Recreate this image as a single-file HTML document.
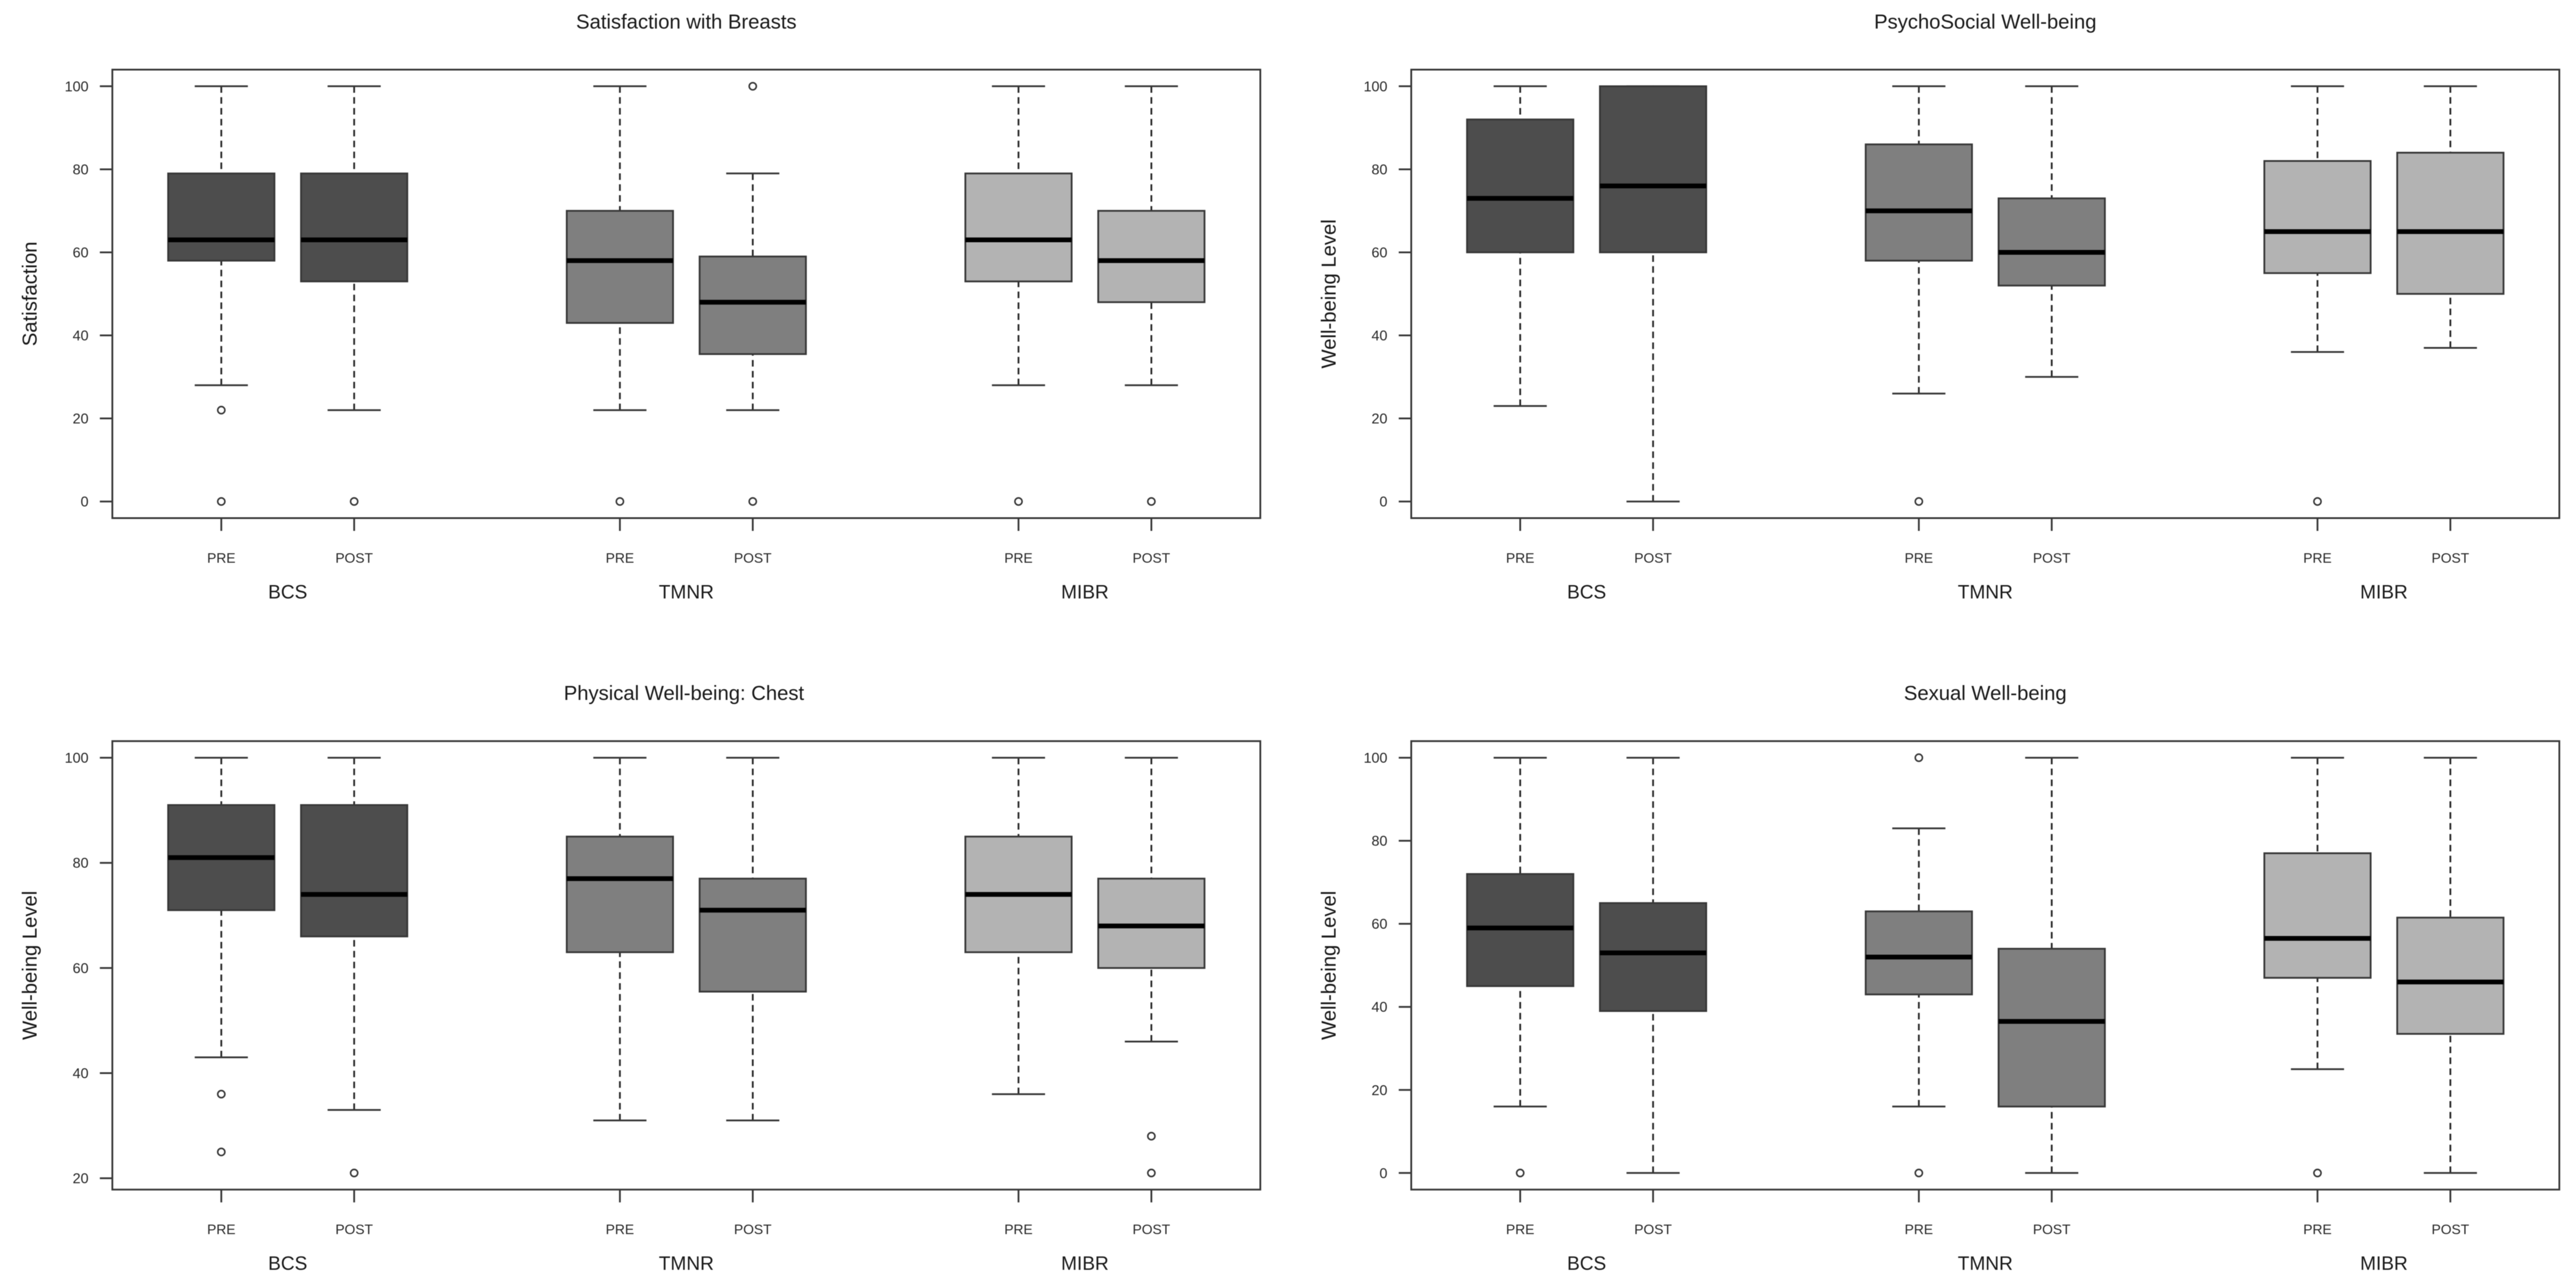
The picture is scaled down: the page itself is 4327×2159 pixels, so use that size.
<!DOCTYPE html>
<html lang="en">
<head>
<meta charset="utf-8">
<title>Boxplots of patient-reported outcomes, pre and post surgery</title>
<style>
  html, body { margin: 0; padding: 0; background: #fff; }
  #chart { display: block; width: 4327px; height: 2159px; filter: blur(0.6px); font-family: "Liberation Sans", Arial, sans-serif; }
</style>
</head>
<body>
<svg id="chart" xmlns="http://www.w3.org/2000/svg" width="4327" height="2159" viewBox="0 0 4327 2159"></svg>
<script>
// ---------- categories and labels ----------
const groupLabels = ['BCS', 'TMNR', 'MIBR'];
const timepointLabels = ['PRE', 'POST'];
const panelTitles = ['Satisfaction with Breasts', 'PsychoSocial Well-being', 'Physical Well-being: Chest', 'Sexual Well-being'];
const yAxisTitles = ['Satisfaction', 'Well-being Level', 'Well-being Level', 'Well-being Level'];
const yTicksFull = [0, 20, 40, 60, 80, 100];
const yTicksChest = [20, 40, 60, 80, 100];

// ---------- values: order is BCS PRE, BCS POST, TMNR PRE, TMNR POST, MIBR PRE, MIBR POST ----------
const satisfactionLow = [28, 22, 22, 22, 28, 28];
const satisfactionQ1 = [58, 53, 43, 35.5, 53, 48];
const satisfactionMedian = [63, 63, 58, 48, 63, 58];
const satisfactionQ3 = [79, 79, 70, 59, 79, 70];
const satisfactionHigh = [100, 100, 100, 79, 100, 100];
const satisfactionOutliers = [[22, 0], [0], [0], [100, 0], [0], [0]];

const psychosocialLow = [23, 0, 26, 30, 36, 37];
const psychosocialQ1 = [60, 60, 58, 52, 55, 50];
const psychosocialMedian = [73, 76, 70, 60, 65, 65];
const psychosocialQ3 = [92, 100, 86, 73, 82, 84];
const psychosocialHigh = [100, 100, 100, 100, 100, 100];
const psychosocialOutliers = [[], [], [0], [], [0], []];

const chestLow = [43, 33, 31, 31, 36, 46];
const chestQ1 = [71, 66, 63, 55.5, 63, 60];
const chestMedian = [81, 74, 77, 71, 74, 68];
const chestQ3 = [91, 91, 85, 77, 85, 77];
const chestHigh = [100, 100, 100, 100, 100, 100];
const chestOutliers = [[36, 25], [21], [], [], [], [28, 21]];

const sexualLow = [16, 0, 16, 0, 25, 0];
const sexualQ1 = [45, 39, 43, 16, 47, 33.5];
const sexualMedian = [59, 53, 52, 36.5, 56.5, 46];
const sexualQ3 = [72, 65, 63, 54, 77, 61.5];
const sexualHigh = [100, 100, 83, 100, 100, 100];
const sexualOutliers = [[0], [], [100, 0], [], [0], []];

// ---------- panel wiring ----------
const panelSeries = [
  { low: satisfactionLow, q1: satisfactionQ1, med: satisfactionMedian, q3: satisfactionQ3, high: satisfactionHigh, out: satisfactionOutliers, ticks: yTicksFull, domain: [-4, 104], name: 'satisfaction' },
  { low: psychosocialLow, q1: psychosocialQ1, med: psychosocialMedian, q3: psychosocialQ3, high: psychosocialHigh, out: psychosocialOutliers, ticks: yTicksFull, domain: [-4, 104], name: 'psychosocial' },
  { low: chestLow, q1: chestQ1, med: chestMedian, q3: chestQ3, high: chestHigh, out: chestOutliers, ticks: yTicksChest, domain: [17.84, 103.16], name: 'chest' },
  { low: sexualLow, q1: sexualQ1, med: sexualMedian, q3: sexualQ3, high: sexualHigh, out: sexualOutliers, ticks: yTicksFull, domain: [-4, 104], name: 'sexual' }
];

// ---------- layout ----------
const frames = [
  { left: 188.7, right: 2117, top: 117, bottom: 870.5, titleShift: 0 },
  { left: 2370.5, right: 4299, top: 117, bottom: 870.5, titleShift: 0 },
  { left: 188.7, right: 2117, top: 1245.2, bottom: 1998.7, titleShift: -4 },
  { left: 2370.5, right: 4299, top: 1245.2, bottom: 1998.7, titleShift: 0 }
];
const X_DOMAIN = [0.18, 8.82];
const BOX_WIDTH = 0.8;
const CAP_WIDTH = 0.4;
const GROUP_FILLS = ['#4d4d4d', '#7f7f7f', '#b3b3b3'];
const LINE = '#383838';

const svg = document.getElementById('chart');
const NS = 'http://www.w3.org/2000/svg';

function mk(tag, attrs, parent, text) {
  const el = document.createElementNS(NS, tag);
  for (const k in attrs) el.setAttribute(k, attrs[k]);
  if (text !== undefined) el.textContent = text;
  parent.appendChild(el);
  return el;
}
function xAxisFn(frame) {
  return function (slot) {
    return frame.left + (slot - X_DOMAIN[0]) / (X_DOMAIN[1] - X_DOMAIN[0]) * (frame.right - frame.left);
  };
}
function yAxisFn(frame, domain) {
  return function (v) {
    return frame.bottom - (v - domain[0]) / (domain[1] - domain[0]) * (frame.bottom - frame.top);
  };
}
function slotOf(group, timepoint) { return group * 3 + timepoint + 1; }

function drawBox(parent, s, idx, x, y, group, timepoint) {
  const slot = slotOf(group, timepoint);
  const g = mk('g', {}, parent);
  
  
  const cx = x(slot);

  const upper = mk('line', { x1: cx, x2: cx, y1: y(s.high[idx]), y2: y(s.q3[idx]), stroke: '#2a2a2a', 'stroke-width': 3, 'stroke-dasharray': '11 7.3' }, g);
  
  

  const lower = mk('line', { x1: cx, x2: cx, y1: y(s.low[idx]), y2: y(s.q1[idx]), stroke: '#2a2a2a', 'stroke-width': 3, 'stroke-dasharray': '11 7.3' }, g);
  
  

  const capHigh = mk('line', { x1: x(slot - CAP_WIDTH / 2), x2: x(slot + CAP_WIDTH / 2), y1: y(s.high[idx]), y2: y(s.high[idx]), stroke: LINE, 'stroke-width': 3 }, g);
  
  

  const capLow = mk('line', { x1: x(slot - CAP_WIDTH / 2), x2: x(slot + CAP_WIDTH / 2), y1: y(s.low[idx]), y2: y(s.low[idx]), stroke: LINE, 'stroke-width': 3 }, g);
  
  

  const rect = mk('rect', { x: x(slot - BOX_WIDTH / 2), y: y(s.q3[idx]), width: x(slot + BOX_WIDTH / 2) - x(slot - BOX_WIDTH / 2), height: y(s.q1[idx]) - y(s.q3[idx]), fill: GROUP_FILLS[group], stroke: LINE, 'stroke-width': 3 }, g);
  
  

  const med = mk('line', { x1: x(slot - BOX_WIDTH / 2), x2: x(slot + BOX_WIDTH / 2), y1: y(s.med[idx]), y2: y(s.med[idx]), stroke: '#000', 'stroke-width': 8 }, g);
  
  

  s.out[idx].forEach(function (v) {
    const dot = mk('circle', { cx: cx, cy: y(v), r: 6, fill: 'none', stroke: LINE, 'stroke-width': 2.6 }, g);
    
    
  });
}

function drawPanel(p) {
  const frame = frames[p];
  const s = panelSeries[p];
  const x = xAxisFn(frame);
  const y = yAxisFn(frame, s.domain);
  const midX = (frame.left + frame.right) / 2;
  const midY = (frame.top + frame.bottom) / 2;

  const panel = mk('g', {}, svg);
  
  

  const title = mk('text', { x: midX + frame.titleShift, y: frame.top - 69, 'text-anchor': 'middle', 'font-size': 34, fill: '#1a1a1a' }, panel, panelTitles[p]);
  
  

  const yTitle = mk('text', { transform: 'translate(' + (frame.left - 127) + ' ' + midY + ') rotate(-90)', 'text-anchor': 'middle', 'font-size': 34, fill: '#1a1a1a' }, panel, yAxisTitles[p]);
  
  

  s.ticks.forEach(function (v) {
    const tick = mk('line', { x1: frame.left - 21, x2: frame.left, y1: y(v), y2: y(v), stroke: LINE, 'stroke-width': 3 }, panel);
    
    
    const label = mk('text', { x: frame.left - 40, y: y(v) + 8.5, 'text-anchor': 'end', 'font-size': 24, fill: '#2a2a2a' }, panel, String(v));
    
    
  });

  groupLabels.forEach(function (groupName, group) {
    timepointLabels.forEach(function (tpName, timepoint) {
      const slot = slotOf(group, timepoint);
      drawBox(panel, s, group * 2 + timepoint, x, y, group, timepoint);
      const tick = mk('line', { x1: x(slot), x2: x(slot), y1: frame.bottom, y2: frame.bottom + 21.5, stroke: LINE, 'stroke-width': 3 }, panel);
      
      
      const label = mk('text', { x: x(slot), y: frame.bottom + 75, 'text-anchor': 'middle', 'font-size': 23.2, fill: '#2a2a2a' }, panel, tpName);
      
      
    });
    const gl = mk('text', { x: x(slotOf(group, 0) + 0.5), y: frame.bottom + 135, 'text-anchor': 'middle', 'font-size': 32, fill: '#1a1a1a' }, panel, groupName);
    
    
  });

  const border = mk('rect', { x: frame.left, y: frame.top, width: frame.right - frame.left, height: frame.bottom - frame.top, fill: 'none', stroke: LINE, 'stroke-width': 3 }, panel);
  
  
}

panelSeries.forEach(function (_, p) { drawPanel(p); });
</script>
</body>
</html>
